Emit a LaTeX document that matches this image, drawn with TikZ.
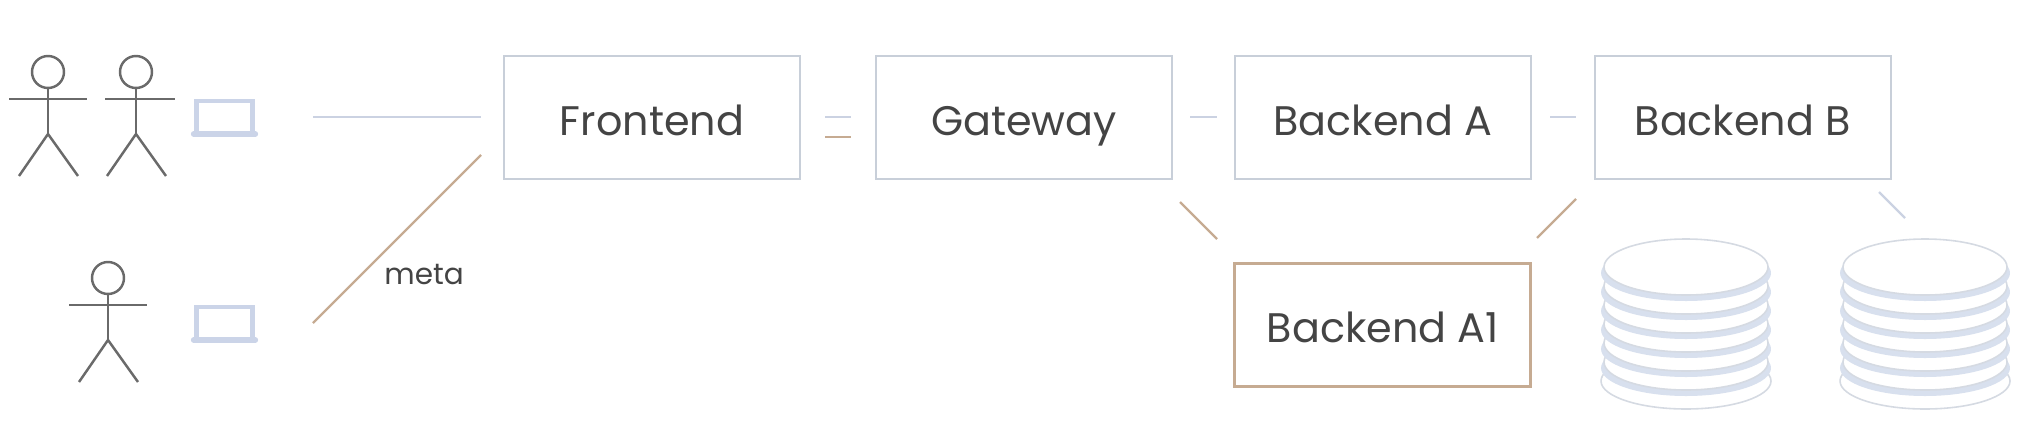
\documentclass[tikz,border=0pt]{standalone}
\usepackage{fontspec}
\setmainfont{Poppins}
\usetikzlibrary{positioning}
\definecolor{edgeblue}{HTML}{CBD2E2}
\definecolor{edgetan}{HTML}{C6AB92}
\definecolor{boxgray}{HTML}{C8CFD9}
\definecolor{inkgray}{HTML}{444444}
\definecolor{actorgray}{HTML}{6A6A6A}
\definecolor{plateblue}{HTML}{D8E0EE}
\definecolor{plateline}{HTML}{D5DAE2}
\definecolor{laptopblue}{HTML}{CBD4E8}
\begin{document}
\begin{tikzpicture}[
    x=0.02cm, y=-0.02cm,
    font=\fontsize{23.5}{28}\selectfont,
    service/.style={rectangle, draw=boxgray, line width=1.1pt, text=inkgray, minimum width=5.92cm, minimum height=2.46cm, inner sep=0pt, text height=0.72cm, text depth=0pt},
    bluelink/.style={draw=edgeblue, line width=1.3pt},
    tanlink/.style={draw=edgetan, line width=1.3pt},
    pics/actor/.style={code={
        \draw[actorgray, line width=1.4pt] (0,0) circle [radius=16];
        \draw[actorgray, line width=1.4pt] (-#1,27) -- (39,27);
        \draw[actorgray, line width=1.4pt] (0,16) -- (0,62);
        \draw[actorgray, line width=1.4pt] (-29,104) -- (0,62) -- (30,104);
    }},
    pics/laptop/.style={code={
        \draw[laptopblue, line width=2.3pt] (-28,32) -- (-28,0) -- (28,0) -- (28,32);
        \draw[laptopblue, line width=3pt, line cap=round] (-31,33) -- (31,33);
    }},
    pics/platestack/.style={code={
        \draw[plateline, fill=white, line width=0.9pt] (0,112) ellipse [x radius=85, y radius=28];
        \foreach \platey in {99,80,61,42,23,4} {
            \fill[plateblue] (0,\platey) ellipse [x radius=85, y radius=28];
            \draw[plateline, fill=white, line width=0.9pt] (0,\platey-6) ellipse [x radius=82, y radius=28];
        }
    }},
]
    \useasboundingbox (0,0) rectangle (2034,430);

    % Service boxes
    \node[service] (frontend) at (652,117.5) {Frontend};
    \node[service, right=1.48cm of frontend] (gateway) {Gateway};
    \node[service, right=1.22cm of gateway] (backendA) {Backend A};
    \node[service, right=1.24cm of backendA] (backendB) {Backend B};
    \node[service, below=1.64cm of backendA, draw=edgetan, line width=1.5pt] (backendA1) {Backend A1};

    % Users and their laptops
    \pic at (48,72) {actor=39};
    \pic at (136,72) {actor=31};
    \pic at (108,278) {actor=39};
    \pic at (224.5,101) {laptop};
    \pic at (224.5,307) {laptop};

    % Storage
    \pic at (1686,269) {platestack};
    \pic at (1925,269) {platestack};

    % Free ends of the connectors
    \coordinate (usersOut) at (313,117);
    \coordinate (usersIn) at (481,117);
    \coordinate (metaOut) at (313,323);
    \coordinate (metaIn) at (481,155);
    \coordinate (frontOutA) at (825,117);
    \coordinate (gateInA) at (851,117);
    \coordinate (frontOutB) at (825,137);
    \coordinate (gateInB) at (851,137);
    \coordinate (gateOut) at (1190,117);
    \coordinate (backAIn) at (1217,117);
    \coordinate (backAOut) at (1550,117);
    \coordinate (backBIn) at (1576,117);
    \coordinate (gateDown) at (1180,202);
    \coordinate (a1InLeft) at (1217,239);
    \coordinate (a1OutRight) at (1537,238);
    \coordinate (backBDown) at (1576,199);
    \coordinate (storeOut) at (1879,192);
    \coordinate (storeIn) at (1905,218);

    % Connectors
    \draw[bluelink] (usersOut) -- (usersIn);
    \draw[tanlink] (metaOut) -- (metaIn) node[pos=0.3, right, xshift=0.28cm, yshift=-0.04cm, text=inkgray, font=\fontsize{16.8}{20}\selectfont] (metalabel) {meta};
    \draw[bluelink] (frontOutA) -- (gateInA);
    \draw[tanlink] (frontOutB) -- (gateInB);
    \draw[bluelink] (gateOut) -- (backAIn);
    \draw[bluelink] (backAOut) -- (backBIn);
    \draw[tanlink] (gateDown) -- (a1InLeft);
    \draw[tanlink] (a1OutRight) -- (backBDown);
    \draw[bluelink] (storeOut) -- (storeIn);
\end{tikzpicture}
\end{document}
